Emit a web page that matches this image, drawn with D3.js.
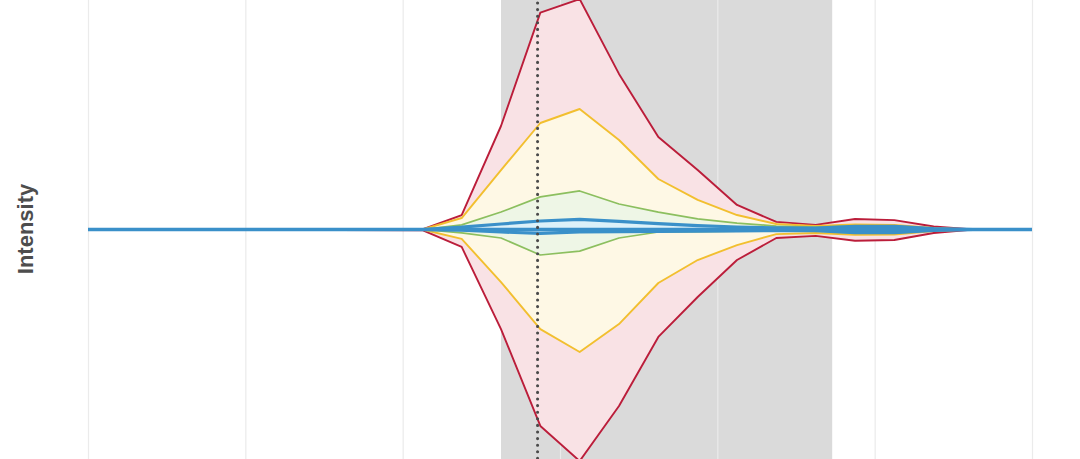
<!DOCTYPE html>
<html>
<head>
<meta charset="utf-8">
<script src="https://cdn.jsdelivr.net/npm/d3@7"></script>
<style>
  html, body { margin: 0; padding: 0; background: #ffffff; }
  svg { display: block; }
</style>
</head>
<body>
<svg id="chart" width="1080" height="459"></svg>
<script>
// ---- data ----
const xs      = [0, 8.5, 9.5, 10.5, 11.5, 12.5, 13.5, 14.5, 15.5, 16.5, 17.5, 18.5, 19.5, 20.5, 21.5, 22.5, 24];
const redHi   = [0, 0, 6.3, 45.1, 94.5, 100.4, 67.8, 40.3, 25.9, 10.7, 3.3, 2.0, 4.6, 4.1, 1.3, 0, 0];
const redLo   = [0, -0.3, -7.6, -43.4, -85.6, -100.9, -76.9, -46.8, -29.4, -13.3, -3.7, -2.8, -4.9, -4.6, -1.5, 0, 0];
const yelHi   = [0, 0, 5.0, 25.9, 46.4, 52.5, 39.0, 22.0, 12.9, 6.3, 2.4, 1.5, 2.2, 2.0, 0.7, 0, 0];
const yelLo   = [0, 0, -4.1, -22.9, -43.4, -53.4, -41.2, -23.3, -13.3, -6.8, -2.0, -1.5, -2.3, -2.2, -0.7, 0, 0];
const grnHi   = [0, 0, 2.0, 7.6, 14.2, 16.8, 11.1, 7.6, 4.6, 2.8, 1.5, 1.1, 1.6, 1.6, 0.5, 0, 0];
const grnLo   = [0, 0, -1.5, -3.7, -11.1, -9.4, -3.7, -1.1, -0.9, -0.7, -0.6, -0.6, -1.6, -1.6, -0.5, 0, 0];
const bluHi   = [0, 0, 1.0, 2.4, 3.7, 4.4, 3.5, 2.6, 1.7, 1.1, 0.7, 0.6, 1.4, 1.4, 0.4, 0, 0];
const bluLo   = [0, 0, -0.3, -1.1, -1.7, -1.0, -0.9, -0.8, -0.7, -0.6, -0.5, -0.5, -1.4, -1.4, -0.4, 0, 0];
const median  = [0, 0, 0, 0, 0, 0, 0, 0, 0, 0, 0, 0, 0, 0, 0, 0, 0];
const gridTicks = [0, 4, 8, 12, 16, 20, 24];
const shadeRange = [10.5, 18.92];
const markerX = 11.43;
const yLabel = "Intensity";

// ---- scales ----
const svg = d3.select("#chart");
const x = d3.scaleLinear().domain([0, 24]).range([88, 1032]);
const y = d3.scaleLinear().domain([-100, 100]).range([459, 0]);

// shaded period
svg.append("rect")
  .attr("x", x(shadeRange[0])).attr("y", 0)
  .attr("width", x(shadeRange[1]) - x(shadeRange[0]))
  .attr("height", 459)
  .attr("fill", "#dadada");

// vertical grid via axis
const gridAxis = d3.axisBottom(x).tickValues(gridTicks).tickSize(-459).tickFormat("");
const g = svg.append("g").attr("transform", "translate(0,459)").call(gridAxis);
g.select(".domain").remove();
g.selectAll(".tick line").attr("stroke", "#ebebeb").attr("stroke-width", 1.2);

const idx = d3.range(xs.length);
const bands = [
  { hi: redHi, lo: redLo, fill: "#f9e2e5", stroke: "#bb1d3a", w: 1.9 },
  { hi: yelHi, lo: yelLo, fill: "#fef8e5", stroke: "#f2bf2f", w: 1.9 },
  { hi: grnHi, lo: grnLo, fill: "#eef6e6", stroke: "#8cbf5f", w: 1.7 },
  { hi: bluHi, lo: bluLo, fill: "#dcf1f9", stroke: "#3a90c9", w: 3.2 }
];

bands.forEach(b => {
  const area = d3.area().x(i => x(xs[i])).y0(i => y(b.lo[i])).y1(i => y(b.hi[i]));
  svg.append("path").datum(idx).attr("d", area).attr("fill", b.fill).attr("stroke", "none");
});
bands.forEach(b => {
  [b.hi, b.lo].forEach(arr => {
    const line = d3.line().x(i => x(xs[i])).y(i => y(arr[i]));
    svg.append("path").datum(idx).attr("d", line)
      .attr("fill", "none").attr("stroke", b.stroke)
      .attr("stroke-width", b.w).attr("stroke-linejoin", "round");
  });
});

// median
svg.append("path").datum(idx)
  .attr("d", d3.line().x(i => x(xs[i])).y(i => y(median[i])))
  .attr("fill", "none").attr("stroke", "#3a90c9").attr("stroke-width", 3.4);

// dotted marker
svg.append("line")
  .attr("x1", x(markerX)).attr("x2", x(markerX))
  .attr("y1", 3).attr("y2", 459)
  .attr("stroke", "#4a4a4a").attr("stroke-width", 3.1)
  .attr("stroke-linecap", "round").attr("stroke-dasharray", "0,6.6");

// y label
svg.append("text")
  .attr("transform", "translate(33,229) rotate(-90)")
  .attr("text-anchor", "middle")
  .attr("font-family", "'Liberation Sans', Arial, sans-serif")
  .attr("font-weight", "bold")
  .attr("font-size", 22)
  .attr("fill", "#4d4d4d")
  .text(yLabel);
</script>
</body>
</html>
